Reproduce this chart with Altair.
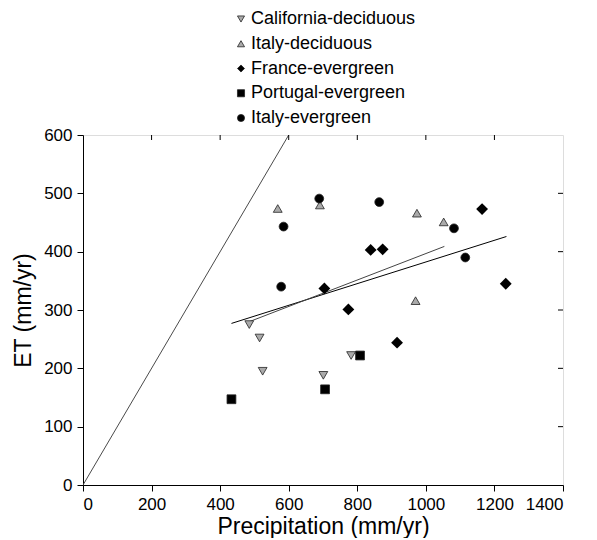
import altair as alt
import pandas as pd

# ---- data ----
groups = ["California-deciduous", "Italy-deciduous", "France-evergreen",
          "Portugal-evergreen", "Italy-evergreen"]
shapes = ["triangle-down", "triangle-up", "diamond", "square", "circle"]
fills = ["#aaaaaa", "#aaaaaa", "black", "black", "black"]

cal_x = [485, 515, 524, 701, 782]
cal_y = [275, 252, 195, 188, 222]
itd_x = [568, 691, 974, 1052, 970]
itd_y = [474, 480, 466, 451, 316]
fra_x = [704, 774, 839, 874, 916, 1164, 1233]
fra_y = [337, 301, 403, 404, 244, 473, 345]
por_x = [433, 706, 808]
por_y = [147, 164, 222]
ite_x = [689, 585, 578, 864, 1082, 1115]
ite_y = [491, 443, 340, 485, 440, 390]

# lines: 1:1 line and two regression lines
one_x = [0, 600]
one_y = [0, 600]
reg1_x = [433, 1235]
reg1_y = [277, 426]
reg2_x = [485, 1054]
reg2_y = [280, 409]

x_ticks = [0, 200, 400, 600, 800, 1000, 1200, 1400]
y_ticks = [0, 100, 200, 300, 400, 500, 600]

# ---- build tables ----
rows = []
for g, xs_, ys_ in zip(groups, [cal_x, itd_x, fra_x, por_x, ite_x],
                       [cal_y, itd_y, fra_y, por_y, ite_y]):
    for a, b in zip(xs_, ys_):
        rows.append({"group": g, "P": a, "ET": b})
pts = pd.DataFrame(rows)

lines = pd.DataFrame(
    [{"line": "one", "P": a, "ET": b, "col": "#4a4a4a"} for a, b in zip(one_x, one_y)]
    + [{"line": "reg1", "P": a, "ET": b, "col": "black"} for a, b in zip(reg1_x, reg1_y)]
    + [{"line": "reg2", "P": a, "ET": b, "col": "#444444"} for a, b in zip(reg2_x, reg2_y)]
)

W, H = 480, 350
xs = alt.Scale(domain=[0, 1400], nice=False)
ys = alt.Scale(domain=[0, 600], nice=False)

common = dict(grid=False, labelFontSize=17, titleFontSize=23,
              titleFontWeight="normal", tickSize=6, tickColor="black",
              domainColor="black", labelColor="black", titleColor="black",
              labelPadding=5, format="d")
xaxis = alt.Axis(values=x_ticks, title="Precipitation (mm/yr)",
                 titlePadding=3, **common)
yaxis = alt.Axis(values=y_ticks, title="ET (mm/yr)", titlePadding=8, **common)

line_layer = alt.Chart(lines).mark_line(strokeWidth=1, clip=True).encode(
    x=alt.X("P:Q", scale=xs, axis=xaxis),
    y=alt.Y("ET:Q", scale=ys, axis=yaxis),
    detail="line:N",
    color=alt.Color("col:N", scale=None),
)

legend = alt.Legend(title=None, orient="none", legendX=149, legendY=-125,
                    direction="vertical", labelFontSize=18, labelColor="black",
                    symbolSize=50, rowPadding=6.75, labelOffset=1,
                    labelLimit=400, symbolStrokeWidth=0.8)

pt_layer = alt.Chart(pts).mark_point(filled=True, size=78, strokeWidth=0.8,
                                     stroke="#222222", opacity=1).encode(
    x="P:Q",
    y="ET:Q",
    shape=alt.Shape("group:N", sort=groups,
                    scale=alt.Scale(domain=groups, range=shapes), legend=legend),
    fill=alt.Fill("group:N", sort=groups,
                  scale=alt.Scale(domain=groups, range=fills), legend=legend),
)

# France diamonds drawn a little larger, as in the reference
dia_layer = alt.Chart(pts).transform_filter(
    alt.datum.group == groups[2]
).mark_point(filled=True, shape="diamond", size=140, color="black",
             opacity=1).encode(x="P:Q", y="ET:Q")

top_ticks = alt.Chart(pd.DataFrame({"t": x_ticks[1:-1]})).mark_rule(
    color="black", strokeWidth=1).encode(
    x=alt.X("t:Q", scale=xs), y=alt.value(0), y2=alt.value(5))
right_ticks = alt.Chart(pd.DataFrame({"t": y_ticks[1:-1]})).mark_rule(
    color="black", strokeWidth=1).encode(
    y=alt.Y("t:Q", scale=ys), x=alt.value(W - 5), x2=alt.value(W))

chart = alt.layer(line_layer, pt_layer, dia_layer, top_ticks, right_ticks).properties(
    width=W, height=H,
    padding={"left": 4, "top": 2, "right": 5, "bottom": 0},
).configure_view(stroke="black", strokeWidth=1).configure(
    font="Liberation Sans"
)

chart.save("out.html", embed_options={"renderer": "svg", "actions": False})
